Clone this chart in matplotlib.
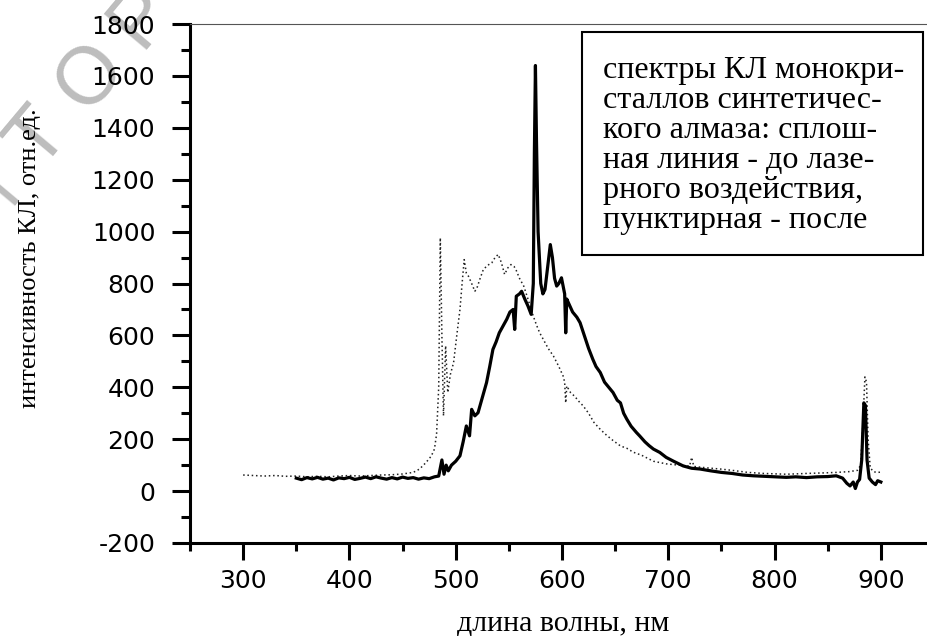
import math
import matplotlib
matplotlib.use('Agg')
import matplotlib.pyplot as plt
from matplotlib.patches import Rectangle
from matplotlib.ticker import MultipleLocator

# спектр до лазерного воздействия (сплошная линия)
wl_before = [350, 355, 360, 365, 370, 375, 380, 385, 390, 395, 400, 405, 410, 415, 420, 425,
             430, 435, 440, 445, 450, 455, 460, 465, 470, 475, 480, 484, 487, 489, 491, 493,
             496, 500, 504, 507, 510, 513, 515, 518, 521, 525, 529, 532, 535, 538, 541, 545,
             548, 551, 554, 555.5, 557, 560, 562, 565, 568, 571, 573, 574, 575, 576, 577.5,
             580, 582, 584, 587, 589, 591, 593, 595, 597, 599.5, 601, 602.5, 603.5, 604.5,
             606, 610, 614, 617, 621, 625, 629, 632, 636, 640, 644, 648, 652, 655, 658, 661,
             665, 670, 673, 678, 682, 686, 692, 698, 705, 714, 722, 730, 740, 750, 760, 770,
             780, 790, 800, 811, 820, 830, 840, 850, 858, 864, 868, 871, 874, 876, 878, 880,
             882, 884, 885.5, 887, 889, 892, 895, 897, 900]
int_before = [50, 44, 52, 47, 53, 46, 50, 43, 51, 48, 53, 45, 49, 54, 48, 55,
              50, 46, 52, 47, 54, 49, 52, 46, 51, 48, 55, 58, 120, 65, 100, 78,
              100, 115, 136, 190, 251, 213, 315, 290, 302, 360, 418, 480, 546, 575, 610, 640,
              662, 690, 700, 623, 751, 760, 770, 740, 713, 681, 800, 1300, 1640, 1350, 1000,
              800, 760, 777, 880, 950, 900, 820, 790, 800, 822, 790, 760, 610, 740,
              726, 690, 670, 649, 600, 550, 508, 480, 457, 420, 400, 380, 350, 340, 300, 277,
              250, 226, 213, 190, 175, 162, 149, 130, 115, 97, 88, 85, 78, 72, 68, 62,
              59, 57, 55, 53, 55, 52, 55, 56, 59, 50, 30, 20, 35, 10, 35, 45,
              120, 340, 330, 120, 50, 35, 25, 40, 35]

# спектр после лазерного воздействия (пунктир)
wl_after = [300, 310, 320, 330, 340, 350, 360, 370, 380, 390, 400, 410, 420, 430, 440, 450,
            460, 466, 472, 477, 480, 482, 484, 485.5, 487, 488.5, 490.5, 492.5, 495, 498,
            501, 504, 506, 508, 510, 512, 515, 518, 520, 523, 526, 530, 534, 537, 540, 543,
            546, 549, 552, 555, 557, 560, 564, 568, 573, 576, 579, 583, 587, 592, 597, 601,
            602.5, 603.5, 604.5, 608, 612, 616, 620, 625, 630, 636, 642, 648, 655, 661, 667,
            675, 686, 698, 710, 720, 722, 724, 735, 749, 760, 775, 790, 811, 830, 845, 858,
            870, 878, 881, 883, 885, 886.5, 888, 890, 893, 896, 900]
int_after = [62, 60, 58, 60, 57, 58, 55, 57, 55, 58, 60, 58, 60, 62, 63, 66,
             72, 85, 110, 135, 162, 220, 400, 976, 600, 290, 560, 380, 450, 495,
             600, 700, 800, 892, 840, 828, 800, 770, 783, 820, 854, 870, 880, 900, 912, 880,
             835, 860, 873, 865, 850, 820, 790, 740, 674, 640, 610, 580, 550, 520, 480, 444,
             420, 340, 405, 380, 365, 345, 328, 300, 265, 238, 215, 195, 174, 165, 150,
             138, 115, 105, 100, 96, 130, 95, 90, 85, 80, 72, 68, 65, 68, 70, 72,
             75, 80, 100, 250, 440, 420, 200, 90, 75, 72, 73]

x_ticks = [300, 400, 500, 600, 700, 800, 900]
y_ticks = [-200, 0, 200, 400, 600, 800, 1000, 1200, 1400, 1600, 1800]

legend_lines = ['спектры КЛ монокри-',
                'сталлов синтетичес-',
                'кого алмаза: сплош-',
                'ная линия - до лазе-',
                'рного воздействия,',
                'пунктирная - после']

watermark = 'РЕПОЗИТОРИЙ'

W, H = 927, 636
fig = plt.figure(figsize=(W / 100, H / 100), dpi=100)
renderer = fig.canvas.get_renderer()


def fit_size(text, family, target_px, base=20):
    # подбираем кегль так, чтобы строка заняла нужную ширину в пикселях
    t = fig.text(0, 0, text, fontsize=base, family=family)
    w = t.get_window_extent(renderer).width
    t.remove()
    return base * target_px / w


ax = fig.add_axes([190 / W, 93 / H, 744 / W, 519 / H])
ax.set_facecolor('none')

ax.plot(wl_after, int_after, color='#222222', lw=1.1, linestyle=(0, (1, 1.8)))
ax.plot(wl_before, int_before, color='black', lw=2.3)

ax.set_xlim(250, 950)
ax.set_ylim(-200, 1800)
ax.set_xticks(x_ticks)
ax.set_yticks(y_ticks)
ax.xaxis.set_minor_locator(MultipleLocator(50))
ax.yaxis.set_minor_locator(MultipleLocator(100))

ax.tick_params(axis='y', which='major', direction='out', length=13, width=2.2, pad=12)
ax.tick_params(axis='y', which='minor', direction='out', length=6.5, width=2.2)
ax.tick_params(axis='x', which='major', direction='out', length=12, width=2.2, pad=7)
ax.tick_params(axis='x', which='minor', direction='out', length=6, width=2.2)
ax.set_xticklabels([str(v) for v in x_ticks], family='DejaVu Sans', fontsize=18)
ax.set_yticklabels([str(v) for v in y_ticks], family='DejaVu Sans', fontsize=18)

ax.spines['left'].set_linewidth(2.2)
ax.spines['bottom'].set_linewidth(2.2)
ax.spines['top'].set_linewidth(0.8)
ax.spines['top'].set_color('#555555')
ax.spines['right'].set_visible(False)

# рамка с подписью
box = Rectangle((582 / W, 1 - 255 / H), (923 - 582) / W, (255 - 32) / H,
                transform=fig.transFigure, facecolor='white', edgecolor='black',
                lw=1.5, zorder=5)
fig.patches.append(box)
leg_size = fit_size(legend_lines[0], 'Liberation Serif', 302)
for i, line in enumerate(legend_lines):
    fig.text(603 / W, 1 - (78 + 30 * i) / H, line, ha='left', va='baseline',
             fontsize=leg_size, family='Liberation Serif', zorder=6)

xl = 'длина волны, нм'
fig.text(563 / W, 6 / H, xl, ha='center', va='baseline',
         fontsize=fit_size(xl, 'Liberation Serif', 214), family='Liberation Serif')
yl = 'интенсивность КЛ, отн.ед.'
fig.text(30 / W, 1 - 258 / H, yl, rotation=90, ha='center', va='center',
         fontsize=fit_size(yl, 'Liberation Serif', 300), family='Liberation Serif')

# водяной знак (под осями и подписями)
ang = 50
step = 80
cx, cy = 90, 77
for k, ch in enumerate(watermark):
    d = (k - 7) * step
    px = cx + d * math.cos(math.radians(ang))
    py = cy - d * math.sin(math.radians(ang))
    if px < -30 or py > 240 or py < -40:
        continue
    fig.text(px / W, 1 - py / H, ch, rotation=ang, ha='center', va='center',
             rotation_mode='anchor', fontsize=58, family='Liberation Sans',
             color='#bdbdbd', zorder=-1)

fig.savefig('out.png', dpi=100)
